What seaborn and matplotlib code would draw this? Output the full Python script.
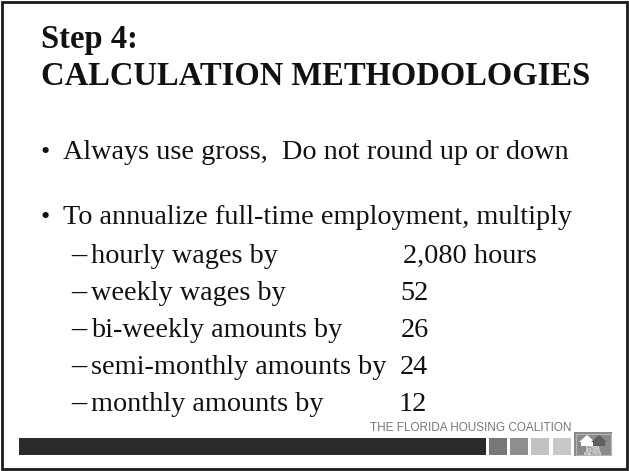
import matplotlib
matplotlib.use("Agg")
import matplotlib.pyplot as plt
import seaborn as sns
from matplotlib.patches import Rectangle, Polygon

# slide content
title_lines = ["Step 4:", "CALCULATION METHODOLOGIES"]
bullets = ["Always use gross,  Do not round up or down",
           "To annualize full-time employment, multiply"]
sub_items = ["hourly wages by", "weekly wages by", "bi-weekly amounts by",
             "semi-monthly amounts by", "monthly amounts by"]
multipliers = ["2,080 hours", "52", "26", "24", "12"]
mult_x = [403, 400, 401, 400, 399]
footer_text = "THE FLORIDA HOUSING COALITION"
footer_grays = ["#777777", "#8e8e8e", "#c2c2c2", "#c8c8c8"]

sns.set_theme(style="white")
plt.rcParams['font.family'] = ['Liberation Serif', 'DejaVu Serif']

W, H = 629, 471
fig = plt.figure(figsize=(W / 100, H / 100), dpi=100)
ax = fig.add_axes([0, 0, 1, 1])
ax.set_xlim(0, W)
ax.set_ylim(H, 0)
ax.axis("off")

ink = "#111111"

# frame
ax.add_patch(Rectangle((2, 2), W - 4, H - 4, fill=False, ec="#1a1a1a", lw=2))

# title
ax.text(41, 48, title_lines[0], fontsize=23.5, fontweight="bold", va="baseline", color=ink)
ax.text(41, 85, title_lines[1], fontsize=23.5, fontweight="bold", va="baseline", color=ink)

# bullets
for y, b in zip([159, 224], bullets):
    ax.text(40, y, "•", fontsize=19, va="baseline", color=ink)
    ax.text(63, y, b, fontsize=20.3, va="baseline", color=ink)

# sub items
for i, (s, m) in enumerate(zip(sub_items, multipliers)):
    y = 263 + i * 37
    ax.text(71, y, "–", fontsize=22, va="baseline", color=ink)
    ax.text(91, y, s, fontsize=20.3, va="baseline", color=ink)
    ax.text(mult_x[i], y, m, fontsize=20.3, va="baseline", color=ink)

# footer bars
ax.add_patch(Rectangle((19, 438), 467, 17, color="#2b2b2b", lw=0))
for i, g in enumerate(footer_grays):
    ax.add_patch(Rectangle((489 + i * 21.2, 438), 18, 17, color=g, lw=0))

ax.text(571, 428, footer_text, fontsize=8.5, family=["Liberation Sans"], color="#777777",
        ha="right", va="center")

# logo
lx, ly = 574, 432
ax.add_patch(Rectangle((lx, ly), 38, 24, color="#8a8a8a", lw=0))
ax.add_patch(Rectangle((lx + 1.5, ly + 1.5), 35, 21, fill=False, ec="#b5b5b5", lw=0.8))
ax.add_patch(Polygon([(lx + 5, ly + 10), (lx + 13, ly + 3), (lx + 21, ly + 10)], closed=True, color="white", lw=0))
ax.add_patch(Polygon([(lx + 17, ly + 10), (lx + 25, ly + 3), (lx + 33, ly + 10)], closed=True, color="#5e5e5e", lw=0))
ax.add_patch(Rectangle((lx + 7, ly + 10), 12, 4, color="white", lw=0))
ax.add_patch(Rectangle((lx + 19, ly + 10), 12, 4, color="#5e5e5e", lw=0))
for j, word in enumerate(["FLORIDA", "HOUSING", "COALITION"]):
    ax.text(lx + 19, ly + 16 + j * 2.8, word, fontsize=2.3, family=["Liberation Sans"],
            color="white", ha="center", va="center", fontweight="bold")

fig.savefig("out.png", dpi=100)
